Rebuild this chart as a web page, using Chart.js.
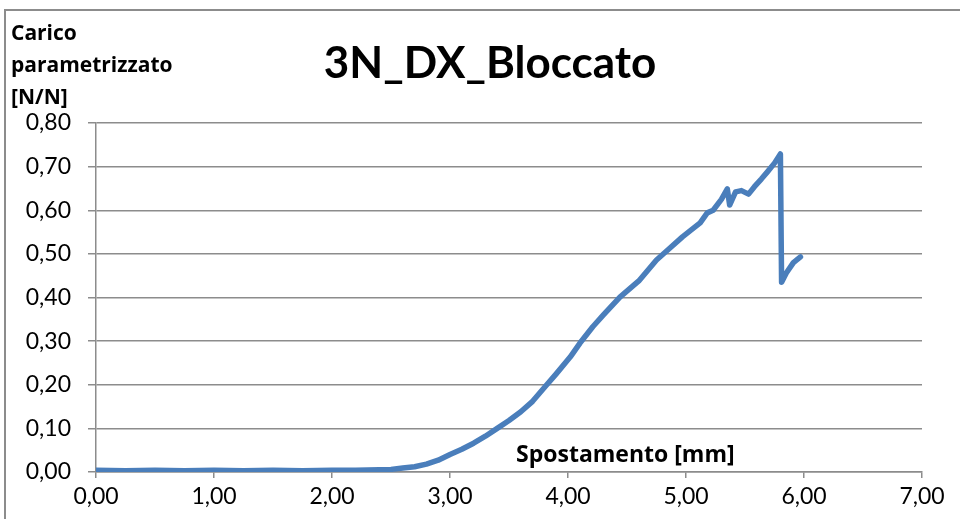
<!DOCTYPE html>
<html>
<head>
<meta charset="utf-8">
<script src="https://cdn.jsdelivr.net/npm/chart.js@4/dist/chart.umd.min.js"></script>
<style>
  html, body { margin: 0; padding: 0; background: #fff; }
  #wrap { width: 960px; height: 519px; position: relative; }
</style>
</head>
<body>
<div id="wrap"><canvas id="myChart" width="960" height="519"></canvas></div>
<script>
const chartTitle = "3N_DX_Bloccato";
const yTitleLines = ["Carico", "parametrizzato", "[N/N]"];
const xTitle = "Spostamento [mm]";

// spostamento [mm]
const spostamento = [0, 0.25, 0.5, 0.75, 1.0, 1.25, 1.5, 1.75, 2.0, 2.2, 2.4, 2.5, 2.6, 2.7, 2.8, 2.9, 3.0,
  3.1, 3.2, 3.3, 3.4, 3.5, 3.6, 3.7, 3.82, 3.9, 4.02, 4.1, 4.21, 4.3, 4.44, 4.6, 4.75, 4.85, 4.97,
  5.05, 5.12, 5.18, 5.23, 5.3, 5.35, 5.37, 5.42, 5.47, 5.53, 5.58, 5.64, 5.69, 5.75, 5.80, 5.81,
  5.85, 5.91, 5.97];
// carico parametrizzato [N/N]
const carico = [0.004, 0.003, 0.004, 0.003, 0.004, 0.003, 0.004, 0.003, 0.004, 0.004, 0.005, 0.006, 0.009, 0.012, 0.018, 0.027, 0.04,
  0.052, 0.066, 0.082, 0.10, 0.118, 0.138, 0.162, 0.20, 0.225, 0.264, 0.295, 0.333, 0.36, 0.401, 0.438, 0.486, 0.51, 0.539,
  0.556, 0.571, 0.594, 0.60, 0.625, 0.649, 0.612, 0.642, 0.645, 0.637, 0.654, 0.672, 0.688, 0.708, 0.729, 0.435,
  0.456, 0.48, 0.493];

const xTicks = [0, 1, 2, 3, 4, 5, 6, 7];
const yTicks = [0, 0.1, 0.2, 0.3, 0.4, 0.5, 0.6, 0.7, 0.8];

const points = spostamento.map((x, i) => ({ x: x, y: carico[i] }));
const fmt = v => v.toFixed(2).replace(".", ",");
const gridColor = "#8c8c8c";
const font = "Lato, 'Open Sans', sans-serif";
const font2 = "'Open Sans', Lato, sans-serif";

const textPlugin = {
  id: "textPlugin",
  afterDraw(chart) {
    const ctx = chart.ctx;
    const area = chart.chartArea;
    ctx.save();
    // outer border
    ctx.strokeStyle = "#8c8c8c";
    ctx.lineWidth = 2;
    ctx.strokeRect(5, 10, 1000, 600);
    ctx.fillStyle = "#000";
    ctx.textBaseline = "alphabetic";
    ctx.textAlign = "center";
    ctx.font = "bold 44px " + font;
    ctx.fillText(chartTitle, 490, 78);
    ctx.textAlign = "left";
    ctx.font = "bold 21px " + font2;
    yTitleLines.forEach((t, i) => ctx.fillText(t, 11, 40 + i * 32));
    ctx.font = "bold 23px " + font2;
    ctx.fillText(xTitle, area.left + 420, area.bottom - 10);
    ctx.restore();
  }
};

new Chart(document.getElementById("myChart").getContext("2d"), {
  type: "scatter",
  data: {
    datasets: [{
      data: points,
      showLine: true,
      borderColor: "#4a7ebb",
      backgroundColor: "#4a7ebb",
      borderWidth: 5.5,
      pointRadius: 0,
      tension: 0,
      borderJoinStyle: "round",
      borderCapStyle: "round"
    }]
  },
  options: {
    responsive: false,
    animation: false,
    layout: { padding: { top: 123, right: 38, bottom: 0, left: 0 } },
    plugins: { legend: { display: false }, tooltip: { enabled: false } },
    scales: {
      x: {
        type: "linear",
        min: 0, max: 7,
        afterBuildTicks: s => { s.ticks = xTicks.map(v => ({ value: v })); },
        afterFit: s => { s.height = 47; },
        ticks: { callback: fmt, color: "#000", font: { size: 23, family: font }, padding: 5, maxRotation: 0 },
        grid: { drawOnChartArea: false, drawTicks: true, tickLength: 6, color: gridColor, lineWidth: 1.5 },
        border: { display: true, color: gridColor, width: 1.5 }
      },
      y: {
        type: "linear",
        min: 0, max: 0.8,
        afterBuildTicks: s => { s.ticks = yTicks.map(v => ({ value: v })); },
        afterFit: s => { s.width = 96; },
        ticks: { callback: fmt, color: "#000", font: { size: 23, family: font }, padding: 17 },
        grid: { drawTicks: true, tickLength: 8, color: gridColor, lineWidth: 1.5 },
        border: { display: true, color: gridColor, width: 1.5 }
      }
    }
  },
  plugins: [textPlugin]
});
</script>
</body>
</html>
